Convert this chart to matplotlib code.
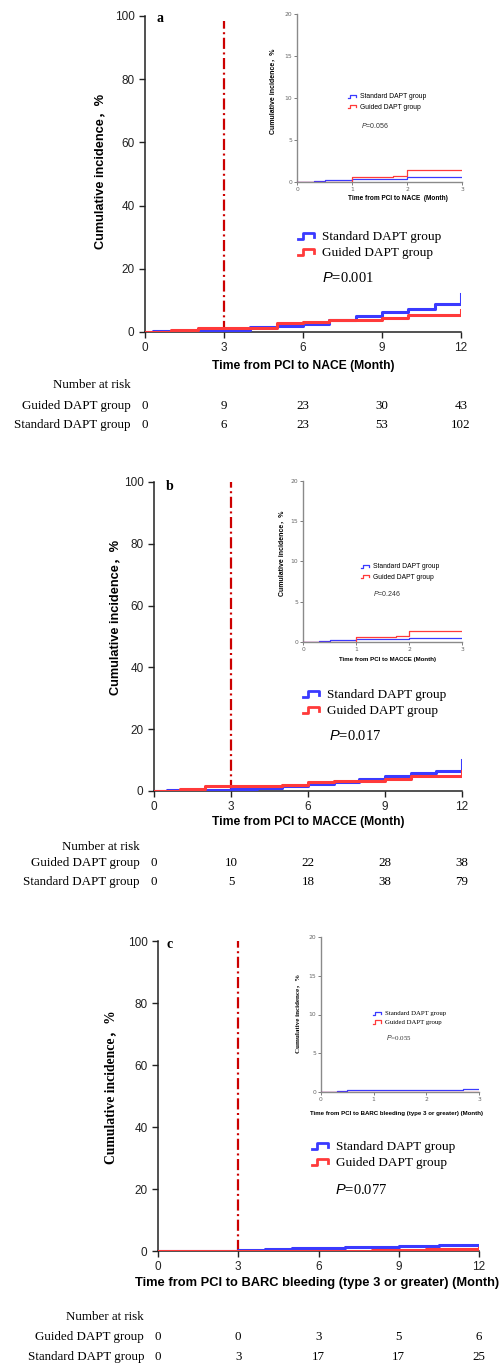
import matplotlib
matplotlib.use("Agg")
import matplotlib.pyplot as plt
import numpy as np
from matplotlib.lines import Line2D
from matplotlib.legend_handler import HandlerBase
from matplotlib.transforms import blended_transform_factory

plt.rcParams['mathtext.fontset'] = 'custom'
plt.rcParams['mathtext.it'] = 'Liberation Sans:italic'
plt.rcParams['mathtext.rm'] = 'Liberation Sans'

# ---- data ----
groups = ['Standard DAPT group', 'Guided DAPT group']
risk_months = [0, 3, 6, 9, 12]

# a: NACE
a_std_t = [0, 0.3, 1, 2, 4, 5, 6, 7, 8, 9, 10, 11, 12]
a_std_v = [0, 0.2, 0.4, 0.5, 1.5, 1.8, 2.6, 3.7, 5.2, 6.3, 7.4, 9.0, 12.0]
a_gui_t = [0, 1, 2, 5, 6, 7, 9, 10, 12]
a_gui_v = [0, 0.5, 1.4, 2.8, 3.2, 3.7, 4.3, 5.4, 7.0]
ia_std_t = [0, 0.3, 0.5, 1, 2, 3]
ia_std_v = [0, 0.1, 0.2, 0.4, 0.55, 0.55]
ia_gui_t = [0, 1, 1.75, 2, 3]
ia_gui_v = [0, 0.55, 0.7, 1.45, 1.45]
a_risk_guided = [0, 9, 23, 30, 43]
a_risk_std = [0, 6, 23, 53, 102]

# b: MACCE
b_std_t = [0, 0.5, 3, 4, 5, 6, 7, 8, 9, 10, 11, 12]
b_std_v = [0, 0.3, 0.6, 1.1, 1.5, 2.2, 3.0, 4.0, 5.0, 5.8, 6.5, 10.0]
b_gui_t = [0, 1, 2, 5, 6, 7, 9, 10, 12]
b_gui_v = [0, 0.7, 1.5, 2.0, 3.0, 3.3, 3.8, 4.8, 6.5]
ib_std_t = [0, 0.3, 0.5, 1, 2, 3]
ib_std_v = [0, 0.1, 0.2, 0.4, 0.5, 0.5]
ib_gui_t = [0, 1, 1.75, 2, 3]
ib_gui_v = [0, 0.6, 0.8, 1.35, 1.35]
b_risk_guided = [0, 10, 22, 28, 38]
b_risk_std = [0, 5, 18, 38, 79]

# c: BARC bleeding
c_std_t = [0, 0.3, 3, 4, 5, 6, 7, 9, 10.5, 12]
c_std_v = [0, 0.1, 0.3, 0.6, 0.9, 1.1, 1.4, 1.6, 1.9, 1.9]
c_gui_t = [0, 8, 10, 12]
c_gui_v = [0, 0.3, 0.6, 1.0]
ic_std_t = [0, 0.3, 0.5, 1.3, 2.7, 3]
ic_std_v = [0, 0.1, 0.2, 0.3, 0.45, 0.45]
ic_gui_t = [0, 3]
ic_gui_v = [0, 0]
c_risk_guided = [0, 0, 3, 5, 6]
c_risk_std = [0, 3, 17, 17, 25]

BLUE = '#3a3aff'
RED = '#ff3a3a'
DASH_RED = '#cc0000'
SANS = 'Liberation Sans'
SERIF = 'Liberation Serif'

W, H = 502, 1366
fig = plt.figure(figsize=(W / 100, H / 100), dpi=100)


def rect(l, r, t, b):
    return [l / W, 1 - b / H, (r - l) / W, (b - t) / H]


def ftext(x, y, s, **kw):
    kw.setdefault('va', 'center')
    return fig.text(x / W, 1 - y / H, s, **kw)


class StepHandler(HandlerBase):
    # little step-shaped legend key
    def create_artists(self, legend, orig_handle, xdescent, ydescent,
                       width, height, fontsize, trans):
        xs = np.array([0, 0.3, 0.3, 1.0, 1.0]) * width - xdescent
        ys = np.array([0.15, 0.15, 0.8, 0.8, 0.35]) * height - ydescent
        return [Line2D(xs, ys, color=orig_handle.get_color(),
                       lw=orig_handle.get_linewidth(), transform=trans)]


def step_legend(ax, x, y, fs, lw, family, pitch):
    hs = [Line2D([], [], color=BLUE, lw=lw), Line2D([], [], color=RED, lw=lw)]
    ax.legend(hs, groups, loc='center left', bbox_to_anchor=(x / W, 1 - y / H),
              bbox_transform=fig.transFigure, frameon=False, borderpad=0,
              borderaxespad=0, handlelength=1.2, handletextpad=0.6,
              labelspacing=pitch, prop={'family': family, 'size': fs},
              handler_map={Line2D: StepHandler()})


def main_panel(box, curves, vline_top, letter, letter_xy, ylab_xy, ylab_family,
               xlab, xlab_xy, xlab_size, leg_xy, pval, p_xy, risk, risk_rows):
    ax = fig.add_axes(rect(*box))
    (st, sv), (gt, gv) = curves
    ax.step(st, sv, where='post', color=BLUE, lw=2.2, zorder=3)
    ax.step(gt, gv, where='post', color=RED, lw=2.2, zorder=3)
    ax.axvline(3, ymin=0, ymax=vline_top, color=DASH_RED, lw=1.6,
               linestyle=(0, (5, 1.6, 0.9, 1.6)), zorder=2)
    ax.set_xlim(0, 12)
    ax.set_ylim(0, 100)
    ax.set_xticks([0, 3, 6, 9, 12])
    ax.set_yticks([0, 20, 40, 60, 80, 100])
    for s in ['top', 'right']:
        ax.spines[s].set_visible(False)
    for s in ['left', 'bottom']:
        ax.spines[s].set_linewidth(1.1)
        ax.spines[s].set_color('#222222')
    ax.tick_params(length=4, width=1.0, labelsize=8.5, colors='#222222')
    for lab in ax.get_xticklabels() + ax.get_yticklabels():
        lab.set_family(SANS)
    ftext(*letter_xy, letter, family=SERIF, weight='bold', fontsize=10, ha='center')
    ylab_size = 9.8 if ylab_family == SERIF else 9.2
    ftext(*ylab_xy, 'Cumulative incidence，%', family=[ylab_family, 'Noto Sans CJK SC'],
          weight='bold', fontsize=ylab_size, rotation=90, ha='center')
    ftext(*xlab_xy, xlab, family=SANS, weight='bold', fontsize=xlab_size, ha='center')
    step_legend(ax, leg_xy[0], leg_xy[1], 9.5, 2.0, SERIF, 0.28)
    ftext(*p_xy, '$P$=' + pval, family=SERIF, fontsize=10.5, ha='left')
    # number at risk table
    tr = blended_transform_factory(ax.transData, fig.transFigure)
    y0, y1, y2 = risk_rows
    right = box[0] - 14
    ftext(right, y0, 'Number at risk', family=SERIF, fontsize=9.4, ha='right')
    ftext(right, y1, 'Guided DAPT group', family=SERIF, fontsize=9.4, ha='right')
    ftext(right, y2, 'Standard DAPT group', family=SERIF, fontsize=9.4, ha='right')
    for m, g, s in zip(risk_months, risk[0], risk[1]):
        ax.text(m, 1 - y1 / H, str(g), transform=tr, family=SERIF, fontsize=9.4,
                ha='center', va='center', clip_on=False)
        ax.text(m, 1 - y2 / H, str(s), transform=tr, family=SERIF, fontsize=9.4,
                ha='center', va='center', clip_on=False)
    return ax


def inset_panel(box, curves, ylab_xy, ylab_family, xlab, xlab_xy, xlab_size,
                leg_xy, leg_family, pval, p_xy):
    ax = fig.add_axes(rect(*box))
    (st, sv), (gt, gv) = curves
    ax.step(st, sv, where='post', color=BLUE, lw=0.9, zorder=3)
    ax.step(gt, gv, where='post', color=RED, lw=0.9, zorder=3)
    ax.set_xlim(0, 3)
    ax.set_ylim(0, 20)
    ax.set_xticks([0, 1, 2, 3])
    ax.set_yticks([0, 5, 10, 15, 20])
    for s in ['top', 'right']:
        ax.spines[s].set_visible(False)
    for s in ['left', 'bottom']:
        ax.spines[s].set_linewidth(1.0)
        ax.spines[s].set_color('#8a8a8a')
    ax.tick_params(length=2, width=0.6, labelsize=4.3, colors='#666666', pad=1.5)
    ftext(*ylab_xy, 'Cumulative incidence，%', family=[ylab_family, 'Noto Sans CJK SC'],
          weight='bold', fontsize=5, rotation=90, ha='center')
    ftext(*xlab_xy, xlab, family=SANS, weight='bold', fontsize=xlab_size, ha='center')
    step_legend(ax, leg_xy[0], leg_xy[1], 4.9, 0.9, leg_family, 0.45)
    ftext(*p_xy, '$P$=' + pval, family=leg_family, fontsize=5, ha='left', color='#333333')
    return ax


# panel a
main_panel((145, 461, 16, 332), ((a_std_t, a_std_v), (a_gui_t, a_gui_v)), 0.985,
           'a', (160, 19), (100, 171), SANS, 'Time from PCI to NACE (Month)', (303, 366), 8.7,
           (298, 245), '0.001', (322, 278), (a_risk_guided, a_risk_std), (385, 406, 425))
inset_panel((297, 462, 14, 182), ((ia_std_t, ia_std_v), (ia_gui_t, ia_gui_v)),
            (273, 91), SANS, 'Time from PCI to NACE  (Month)', (398, 199), 4.7,
            (348, 102), SANS, '0.056', (361, 126))

# panel b
main_panel((154, 462, 482, 791), ((b_std_t, b_std_v), (b_gui_t, b_gui_v)), 1.0,
           'b', (170, 487), (115, 617), SANS, 'Time from PCI to MACCE (Month)', (308, 822), 8.7,
           (303, 703), '0.017', (329, 736), (b_risk_guided, b_risk_std), (847, 863, 882))
inset_panel((303, 462, 481, 642), ((ib_std_t, ib_std_v), (ib_gui_t, ib_gui_v)),
            (282, 553), SANS, 'Time from PCI to MACCE (Month)', (388, 659), 4.4,
            (361, 572), SANS, '0.246', (373, 594))

# panel c
main_panel((158, 479, 941, 1251), ((c_std_t, c_std_v), (c_gui_t, c_gui_v)), 1.0,
           'c', (170, 945), (111, 1087), SERIF,
           'Time from PCI to BARC bleeding (type 3 or greater) (Month)', (317, 1283), 9.3,
           (312, 1155), '0.077', (335, 1190), (c_risk_guided, c_risk_std), (1317, 1337, 1357))
inset_panel((321, 479, 937, 1092), ((ic_std_t, ic_std_v), (ic_gui_t, ic_gui_v)),
            (298, 1013), SERIF, 'Time from PCI to BARC bleeding (type 3 or greater) (Month)',
            (397, 1113), 4.4, (373, 1018), SERIF, '0.055', (386, 1038))

fig.savefig('out.png', dpi=100)
